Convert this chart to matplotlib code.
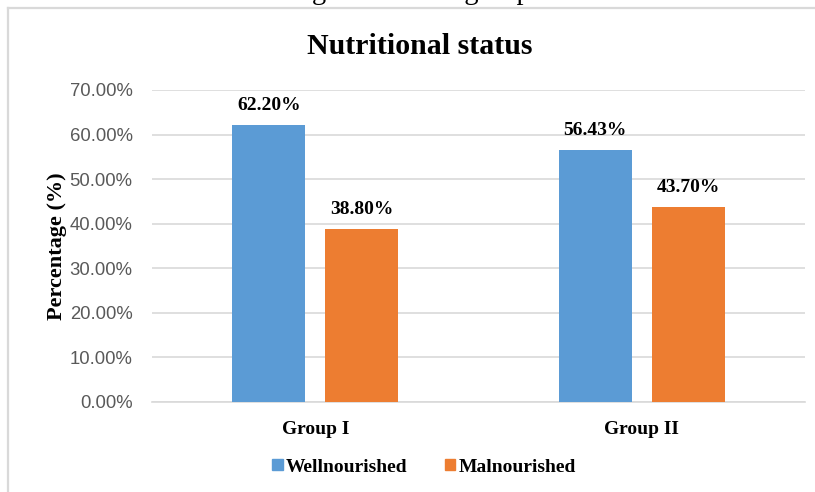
import matplotlib
matplotlib.use('Agg')
import matplotlib.pyplot as plt
import numpy as np
from matplotlib.lines import Line2D
from matplotlib.patches import Rectangle
from matplotlib.ticker import FuncFormatter

# Nutritional status per group (fractions)
groups = ['Group I', 'Group II']
wellnourished = [0.6220, 0.5643]
malnourished = [0.3880, 0.4370]
series_names = ['Wellnourished', 'Malnourished']

BLUE = '#5b9bd5'
ORANGE = '#ed7d31'
GRID = '#d9d9d9'
TICK = '#595959'
SERIF = 'Liberation Serif'

W, H = 815, 492
fig = plt.figure(figsize=(W / 100, H / 100), dpi=100)
fig.patch.set_facecolor('white')

# chart border (only top and left edges are inside the image)
fig.add_artist(Line2D([8 / W, 8 / W], [0, 1 - 8 / H], color=GRID, lw=1.6))
fig.add_artist(Line2D([8 / W, 1], [1 - 8 / H, 1 - 8 / H], color=GRID, lw=1.6))

# caption line of the page above the chart, mostly cut off
fig.text(45 / W, 1 + 1 / H, 'Nutritional status among the studied groups',
         family=SERIF, fontsize=20.5, ha='left', va='baseline')

ax = fig.add_axes([152 / W, 1 - 402 / H, (805 - 152) / W, (402 - 90) / H])

x = np.arange(len(groups))
bw = 0.2236
off = 0.1425
b1 = ax.bar(x - off, wellnourished, bw, color=BLUE, zorder=3)
b2 = ax.bar(x + off, malnourished, bw, color=ORANGE, zorder=3)

for bars, vals in ((b1, wellnourished), (b2, malnourished)):
    for r, v in zip(bars, vals):
        ax.annotate('%.2f%%' % (v * 100), (r.get_x() + r.get_width() / 2, v),
                    xytext=(0, 8), textcoords='offset points',
                    ha='center', va='bottom', family=SERIF,
                    fontweight='bold', fontsize=14)

ax.set_xlim(-0.5, 1.5)
ax.set_ylim(0, 0.7)
ax.set_yticks(np.arange(0, 0.71, 0.1))
ax.yaxis.set_major_formatter(FuncFormatter(lambda v, p: '%.2f%%' % (v * 100)))
ax.set_xticks(x)
ax.set_xticklabels(groups, family=SERIF, fontweight='bold', fontsize=14)
ax.tick_params(axis='x', length=0, pad=14)
ax.tick_params(axis='y', length=0, pad=14, labelsize=13.3, labelcolor=TICK)
for lab in ax.get_yticklabels():
    lab.set_family('Liberation Sans')

ax.grid(axis='y', color=GRID, lw=1.2, zorder=0)
for s in ('top', 'right', 'left'):
    ax.spines[s].set_visible(False)
ax.spines['bottom'].set_color(GRID)
ax.spines['bottom'].set_linewidth(1.2)

ax.set_ylabel('Percentage (%)', family=SERIF, fontweight='bold', fontsize=16,
              labelpad=2)

fig.text(420 / W, 1 - 47 / H, 'Nutritional status', family=SERIF,
         fontweight='bold', fontsize=21.5, ha='center', va='center')

handles = [Rectangle((0, 0), 1, 1, color=BLUE), Rectangle((0, 0), 1, 1, color=ORANGE)]
fig.legend(handles, series_names, loc='center', bbox_to_anchor=(424 / W, 1 - 467 / H),
           ncol=2, frameon=False, handlelength=0.55, handleheight=0.55,
           handletextpad=0.15, columnspacing=1.9,
           prop={'family': SERIF, 'weight': 'bold', 'size': 14})

fig.savefig('out.png', dpi=100)
